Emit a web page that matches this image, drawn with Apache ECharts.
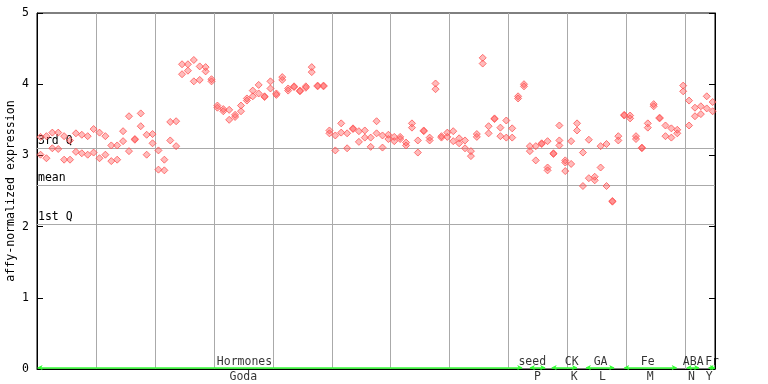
<!DOCTYPE html>
<html><head><meta charset="utf-8">
<script src="https://cdn.jsdelivr.net/npm/echarts@6/dist/echarts.min.js"></script>
<style>html,body{margin:0;padding:0;background:#fff}#c{width:768px;height:384px}</style>
</head><body><div id="c"></div>
<script>
// replicate values per sample (115 samples)
const rep1 = [3.26,3.27,3.32,3.32,3.27,3.21,3.31,3.29,3.27,3.37,
  3.32,3.27,3.14,3.14,3.34,3.55,3.23,3.59,3.29,3.30,
  3.07,2.94,3.47,3.48,4.28,4.28,4.34,4.25,4.24,4.07,
  3.70,3.65,3.64,3.57,3.70,3.80,3.91,3.99,3.83,4.04,
  3.87,4.10,3.94,3.97,3.91,3.97,4.24,3.98,3.98,3.35,
  3.28,3.45,3.31,3.38,3.34,3.35,3.25,3.48,3.28,3.29,
  3.26,3.26,3.18,3.45,3.21,3.35,3.25,4.01,3.27,3.32,
  3.34,3.24,3.21,3.06,3.30,4.37,3.41,3.52,3.39,3.49,
  3.38,3.83,4.00,3.13,3.13,3.17,3.20,3.03,3.42,2.93,
  3.20,3.45,3.04,3.22,2.70,3.13,3.16,2.36,3.27,3.57,
  3.56,3.27,3.11,3.45,3.72,3.53,3.42,3.38,3.36,3.98,
  3.77,3.67,3.69,3.83,3.75];
const rep2 = [3.01,2.96,3.10,3.09,2.94,2.94,3.05,3.03,3.01,3.04,
  2.96,3.01,2.92,2.94,3.20,3.06,3.22,3.41,3.01,3.17,
  2.80,2.79,3.21,3.13,4.14,4.19,4.04,4.06,4.18,4.04,
  3.67,3.62,3.50,3.54,3.62,3.77,3.83,3.87,3.82,3.94,
  3.85,4.06,3.91,3.96,3.90,3.95,4.17,3.97,3.97,3.31,
  3.07,3.32,3.10,3.37,3.19,3.25,3.12,3.31,3.11,3.23,
  3.20,3.23,3.14,3.39,3.04,3.34,3.21,3.93,3.25,3.26,
  3.20,3.17,3.10,2.99,3.26,4.29,3.31,3.51,3.27,3.25,
  3.25,3.80,3.97,3.06,2.93,3.16,2.83,3.02,3.21,2.90,
  2.88,3.35,2.57,2.68,2.65,2.83,2.57,2.35,3.21,3.56,
  3.52,3.23,3.10,3.39,3.69,3.52,3.27,3.25,3.31,3.90,
  3.42,3.55,3.58,3.66,3.62];
const rep3Index = [86, 88, 89];
const rep3Value = [2.79, 3.14, 2.78];

const yTicks = [0, 1, 2, 3, 4, 5];
const refNames = ['3rd Q', 'mean', '1st Q'];
const refValues = [3.10, 2.58, 2.03];

const groupTop = ['Hormones', 'seed', 'CK', 'GA', 'Fe', 'ABA', 'Fr'];
const groupBottom = ['Goda', 'P', 'K', 'L', 'M', 'N', 'Y'];
const groupStart = [0.1, 83.6, 87.3, 93.1, 99.6, 110.2, 113.9];
const groupEnd = [82.3, 86.2, 91.6, 97.9, 108.5, 112.3, 115];
const groupTopAt = [35.2, 84.0, 90.7, 95.6, 103.6, 111.3, 114.5];
const groupBottomAt = [35.0, 84.9, 91.1, 95.9, 104.0, 111.0, 114.0];

const FONT = 'DejaVu Sans Mono';
const RED = '#ff5555';
const pts = [];
rep1.forEach((v, i) => pts.push([i + 0.6, v]));
rep2.forEach((v, i) => pts.push([i + 0.6, v]));
rep3Index.forEach((idx, k) => pts.push([idx + 0.6, rep3Value[k]]));

const chart = echarts.init(document.getElementById('c'), null, {renderer: 'canvas'});
chart.setOption({
  animation: false,
  backgroundColor: '#fff',
  grid: {left: 37, right: 53, top: 13, bottom: 15, outerBoundsMode: 'none', containLabel: false,
    show: true, borderColor: '#000', borderWidth: 1, backgroundColor: 'transparent'},
  xAxis: {
    type: 'value', min: 0, max: 115, interval: 10,
    axisLine: {show: true, lineStyle: {color: '#000'}},
    axisTick: {show: false}, axisLabel: {show: false},
    splitLine: {show: true, lineStyle: {color: '#aaaaaa', width: 1}}
  },
  yAxis: [{
    type: 'value', min: 0, max: 5, interval: 1, position: 'left',
    name: 'affy-normalized expression', nameLocation: 'middle', nameGap: 20, nameRotate: 90,
    nameMoveOverlap: false,
    nameTextStyle: {fontFamily: FONT, fontSize: 11.6, color: '#000'},
    axisLine: {show: true, lineStyle: {color: '#000'}},
    axisTick: {show: true, inside: true, length: 6, lineStyle: {color: '#000'}},
    axisLabel: {fontFamily: FONT, fontSize: 11.5, color: '#000', margin: 8,
      formatter: v => yTicks.includes(v) ? String(v) : ''},
    splitLine: {show: false}
  }, {
    type: 'value', min: 0, max: 5, interval: 1, position: 'right',
    axisLine: {show: true, lineStyle: {color: '#000'}},
    axisTick: {show: true, inside: true, length: 6, lineStyle: {color: '#000'}},
    axisLabel: {show: false}, splitLine: {show: false}
  }],
  series: [{
    type: 'scatter', symbol: 'diamond', symbolSize: 7,
    itemStyle: {color: 'rgba(255,85,85,0.5)', borderColor: RED, borderWidth: 1},
    data: pts, z: 5,
    markLine: {
      silent: true, symbol: 'none', animation: false,
      lineStyle: {color: '#aaaaaa', width: 1, type: 'solid'},
      label: {show: true, position: 'insideStartTop', distance: [1, 1], fontFamily: FONT, fontSize: 11.5, color: '#000',
        formatter: p => p.name},
      data: refNames.map((n, i) => ({name: n, yAxis: refValues[i]}))
    }
  }, {
    type: 'scatter', data: [], silent: true,
    markLine: {
      silent: true, animation: false,
      symbol: ['arrow', 'arrow'], symbolSize: [4, 5],
      lineStyle: {color: '#33ff33', width: 1.5, type: 'solid'},
      label: {show: false},
      data: groupStart.map((s, i) => [{coord: [s, 0.02]}, {coord: [groupEnd[i], 0.02]}])
    }
  }, {
    type: 'scatter', symbolSize: 0, silent: true, clip: false,
    data: groupTop.map((n, i) => ({name: n, value: [groupTopAt[i], 0]})),
    label: {show: true, position: 'top', distance: 1, fontFamily: FONT, fontSize: 11.5, color: '#000', formatter: p => p.name}
  }, {
    type: 'scatter', symbolSize: 0, silent: true, clip: false,
    data: groupBottom.map((n, i) => ({name: n, value: [groupBottomAt[i], 0]})),
    label: {show: true, position: 'bottom', distance: 2, fontFamily: FONT, fontSize: 11.5, color: '#000', formatter: p => p.name}
  }]
});
</script>
</body></html>
